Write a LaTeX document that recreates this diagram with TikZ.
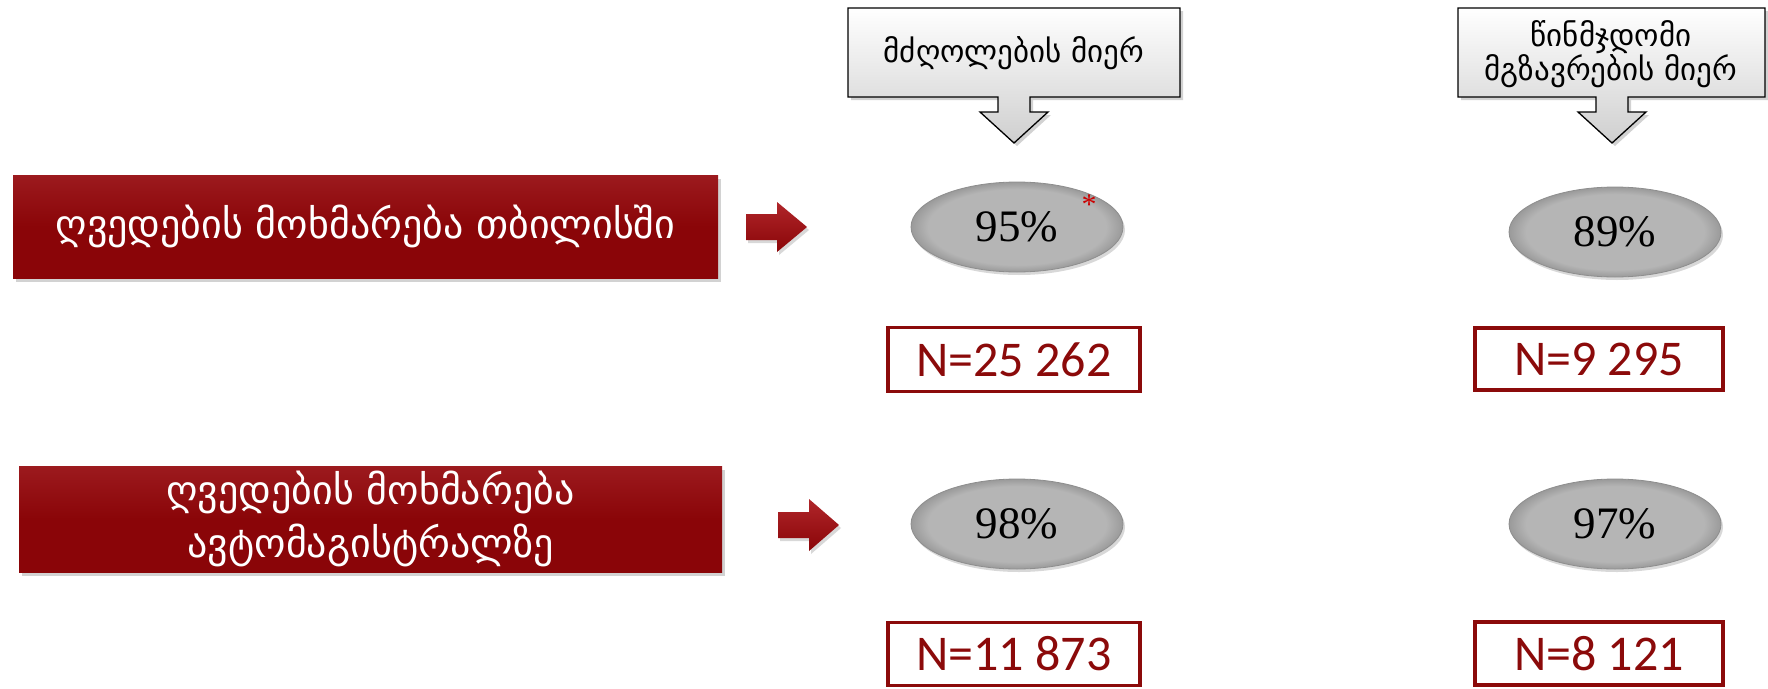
\documentclass[tikz,border=0pt]{standalone}
\usepackage{fontspec}
\setmainfont{Liberation Serif}
\newfontfamily\geo{DejaVu Sans}
\newfontfamily\calib{Carlito}
\usetikzlibrary{shapes.geometric,shadows}
\definecolor{boxred}{HTML}{8A0508}
\definecolor{boxredtop}{HTML}{9C1A1E}
\definecolor{arrowtop}{HTML}{B0262A}
\definecolor{nred}{HTML}{8B0A0A}
\definecolor{ellgray}{HTML}{B5B5B5}
\definecolor{ellrim}{HTML}{8E8E8E}
\definecolor{ellshade}{HTML}{9A9A9A}
\definecolor{callbot}{HTML}{CFCFCF}
\pgfdeclareradialshading{ellrimshade}{\pgfpoint{0bp}{0bp}}{color(0bp)=(ellgray); color(21bp)=(ellgray); color(25bp)=(ellshade); color(50bp)=(ellshade)}
\begin{document}
\begin{tikzpicture}[x=1pt,y=-1pt]
\tikzset{
  redbox/.style={draw=none, top color=boxredtop, bottom color=boxred, middle color=boxred,
    drop shadow={shadow xshift=3pt, shadow yshift=-4pt, opacity=.35},
    text=white, font=\geo\fontsize{40}{53}\selectfont, align=center, inner sep=0pt},
  pct/.style={ellipse, shading=ellrimshade, draw=ellrim, line width=0.8pt, minimum width=212pt, minimum height=90pt,
    inner sep=0pt, font=\fontsize{45}{48}\selectfont,
    drop shadow={shadow xshift=2pt, shadow yshift=-3pt, opacity=.3}},
  nbox/.style={draw=nred, line width=3.5pt, fill=white, text=nred, inner sep=0pt,
    font=\calib\fontsize{50}{54}\selectfont},
  callout/.style={draw=black, line width=1.3pt, top color=white, bottom color=callbot,
    drop shadow={shadow xshift=3pt, shadow yshift=-3pt, opacity=.35}},
  calltext/.style={font=\geo\fontsize{31}{32}\selectfont, align=center, inner sep=0pt},
  redarrow/.style={top color=arrowtop, bottom color=boxred, draw=none,
    drop shadow={shadow xshift=2pt, shadow yshift=-3pt, opacity=.3}},
}
\useasboundingbox (0,0) rectangle (1768,688);
\fill[white] (0,0) rectangle (1768,688);

% callouts
\path[callout] (848,8) -- (1180,8) -- (1180,97) -- (1030,97) -- (1030,112) -- (1048,112) -- (1014,143)
  -- (980,112) -- (998,112) -- (998,97) -- (848,97) -- cycle;
\node[calltext] (c1) at (1014,53) {მძღოლების მიერ};
\path[callout] (1458,8) -- (1765,8) -- (1765,97) -- (1628,97) -- (1628,112) -- (1646,112) -- (1612,143)
  -- (1578,112) -- (1596,112) -- (1596,97) -- (1458,97) -- cycle;
\node[calltext] (c2) at (1611,54) {წინმჯდომი\\მგზავრების მიერ};

% left boxes
\node[redbox, minimum width=705pt, minimum height=103pt] (b1) at (365.5,226.5) {ღვედების მოხმარება თბილისში};
\node[redbox, minimum width=703pt, minimum height=106pt] (b2) at (370.5,519) {ღვედების მოხმარება\\ავტომაგისტრალზე};

% red arrows
\path[redarrow] (746,214) -- (777,214) -- (777,202) -- (807,227) -- (777,252) -- (777,240) -- (746,240) -- cycle;
\path[redarrow] (778,512) -- (809,512) -- (809,499) -- (839,525) -- (809,551) -- (809,538) -- (778,538) -- cycle;

% ellipses
\node[pct] (e1) at (1017,227) {95\%};
\node[text=red!80!black, font=\fontsize{30}{30}\selectfont] (s1) at (1089,205) {*};
\node[pct] (e2) at (1615,232) {89\%};
\node[pct] (e3) at (1017,524) {98\%};
\node[pct] (e4) at (1615,524) {97\%};

% N boxes
\node[nbox, minimum width=252pt, minimum height=64pt] (n1) at (1014,359.5) {N=25 262};
\node[nbox, minimum width=248pt, minimum height=62pt] (n2) at (1599,359) {N=9 295};
\node[nbox, minimum width=252pt, minimum height=63pt] (n3) at (1014,654) {N=11 873};
\node[nbox, minimum width=248pt, minimum height=63pt] (n4) at (1599,653.5) {N=8 121};
\end{tikzpicture}
\end{document}
